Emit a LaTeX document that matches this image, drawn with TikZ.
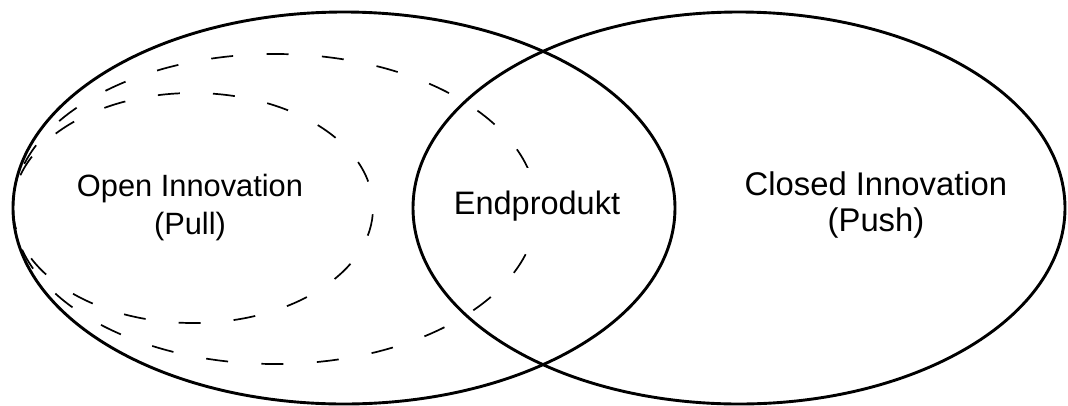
\documentclass[tikz,border=0pt]{standalone}
\usepackage{fontspec}
\setmainfont{Liberation Sans}
\begin{document}
\begin{tikzpicture}[x=1pt,y=-1pt,
  solidring/.style={draw=black, line width=2.9pt},
  dashring/.style={draw=black, line width=1.7pt},
  lbl/.style={align=center, inner sep=0pt}]
\useasboundingbox (0,0) rectangle (1068,405);
% dashed ellipses
\draw[dashring, dash pattern=on 22pt off 33.49pt, dash phase=13.49pt] (275,209) ellipse [x radius=262pt, y radius=155pt];
\draw[dashring, dash pattern=on 22pt off 33.18pt, dash phase=28.18pt] (193,208) ellipse [x radius=180pt, y radius=115pt];
% label box of the intersection (white, hides the dashed line behind it)
\node[lbl, fill=white, inner xsep=8pt, text height=46pt, text depth=39pt,
      font=\fontsize{32.5}{37}\selectfont, anchor=base] (end) at (537,214) {Endprodukt};
% solid ellipses
\draw[solidring] (344,208) ellipse [x radius=331pt, y radius=196pt];
\draw[solidring] (739,208) ellipse [x radius=326pt, y radius=196pt];
% labels
\node[lbl, font=\fontsize{30.8}{38}\selectfont] (open) at (190,208) {Open Innovation\\(Pull)};
\node[lbl, font=\fontsize{32.8}{36}\selectfont] (closed) at (876,205) {Closed Innovation\\(Push)};
\end{tikzpicture}
\end{document}
